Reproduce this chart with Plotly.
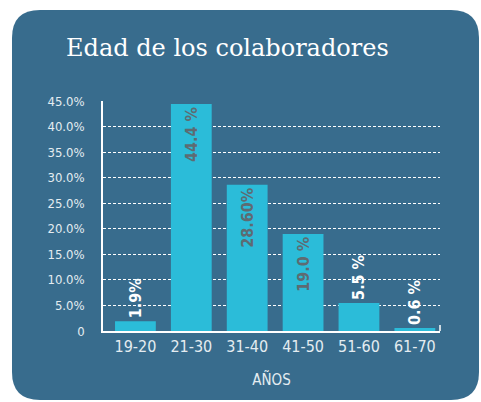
import plotly.graph_objects as go

categories = ["19-20", "21-30", "31-40", "41-50", "51-60", "61-70"]
values = [1.9, 44.4, 28.6, 19.0, 5.5, 0.6]
value_labels = ["1.9%", "44.4 %", "28.60%", "19.0 %", "5.5 %", "0.6 %"]
label_positions = ["outside", "inside", "inside", "inside", "outside", "outside"]
y_tickvals = [0, 5, 10, 15, 20, 25, 30, 35, 40, 45]
y_ticktext = ["0", "5.0%", "10.0%", "15.0%", "20.0%", "25.0%", "30.0%", "35.0%", "40.0%", "45.0%"]
title_text = "Edad de los colaboradores"
x_title = "AÑOS"

W, H = 481, 402
L, R, T, B = 103, 41, 101, 71
PW, PH = W - L - R, H - T - B

PANEL = "#386c8d"
BAR = "#2bbcd9"
TXT = "#e4ecf1"
NARROW = "DejaVu Sans Condensed, Liberation Sans Narrow, Arial Narrow, sans-serif"


def px(x):
    return (x - L) / PW


def py(y):
    return (H - B - y) / PH


def rounded_rect(x0, y0, x1, y1, r):
    pts = [
        ("M", (x0 + r, y0)),
        ("L", (x1 - r, y0)),
        ("Q", (x1, y0), (x1, y0 + r)),
        ("L", (x1, y1 - r)),
        ("Q", (x1, y1), (x1 - r, y1)),
        ("L", (x0 + r, y1)),
        ("Q", (x0, y1), (x0, y1 - r)),
        ("L", (x0, y0 + r)),
        ("Q", (x0, y0), (x0 + r, y0)),
    ]
    s = ""
    for item in pts:
        cmd = item[0]
        coords = " ".join(f"{px(a):.5f},{py(b):.5f}" for a, b in item[1:])
        s += f"{cmd} {coords} "
    return s + "Z"


fig = go.Figure()
fig.add_trace(go.Bar(
    x=categories,
    y=values,
    width=0.73,
    marker=dict(color=BAR, line=dict(width=0)),
    text=value_labels,
    textposition=label_positions,
    textangle=-90,
    insidetextanchor="end",
    constraintext="none",
    cliponaxis=False,
    insidetextfont=dict(family=NARROW, size=16, color="#5e6b72", weight="bold"),
    outsidetextfont=dict(family=NARROW, size=16, color="#ffffff", weight="bold"),
    hoverinfo="skip",
))

fig.add_shape(
    type="path",
    path=rounded_rect(12, 10, 479, 400, 28),
    xref="paper", yref="paper",
    fillcolor=PANEL,
    line=dict(width=0),
    layer="below",
)

# small end tick at right of the x axis
fig.add_shape(
    type="line",
    xref="paper", yref="paper",
    x0=1, x1=1, y0=0, y1=py(H - B - 6),
    line=dict(color="#ffffff", width=1.5),
)

fig.add_annotation(
    text=title_text,
    xref="paper", yref="paper",
    x=px(64), y=py(48),
    xanchor="left", yanchor="middle",
    showarrow=False,
    font=dict(family="DejaVu Serif", size=24, color="#ffffff"),
)

fig.update_layout(
    width=W, height=H,
    margin=dict(l=L, r=R, t=T, b=B),
    paper_bgcolor="#ffffff",
    plot_bgcolor=PANEL,
    showlegend=False,
    bargap=0.27,
)

fig.update_xaxes(
    type="category",
    range=[-0.58, 5.45],
    showgrid=False,
    showline=True,
    linecolor="#ffffff",
    linewidth=1.5,
    ticks="",
    tickfont=dict(family=NARROW, size=16, color=TXT),
    ticklabelstandoff=0,
    title=dict(text=x_title, font=dict(family=NARROW, size=15, color=TXT), standoff=20),
    zeroline=False,
)

fig.update_yaxes(
    range=[0, 45],
    tickvals=y_tickvals,
    ticktext=y_ticktext,
    showgrid=True,
    gridcolor="#ffffff",
    gridwidth=1.2,
    griddash="3px,2px",
    showline=True,
    linecolor="#ffffff",
    linewidth=1.5,
    ticks="",
    tickfont=dict(family=NARROW, size=13, color=TXT),
    ticklabelstandoff=14,
    zeroline=False,
)

fig.write_html(
    "out.html",
    config={"displayModeBar": False},
    post_script="document.body.style.margin='0';",
)
